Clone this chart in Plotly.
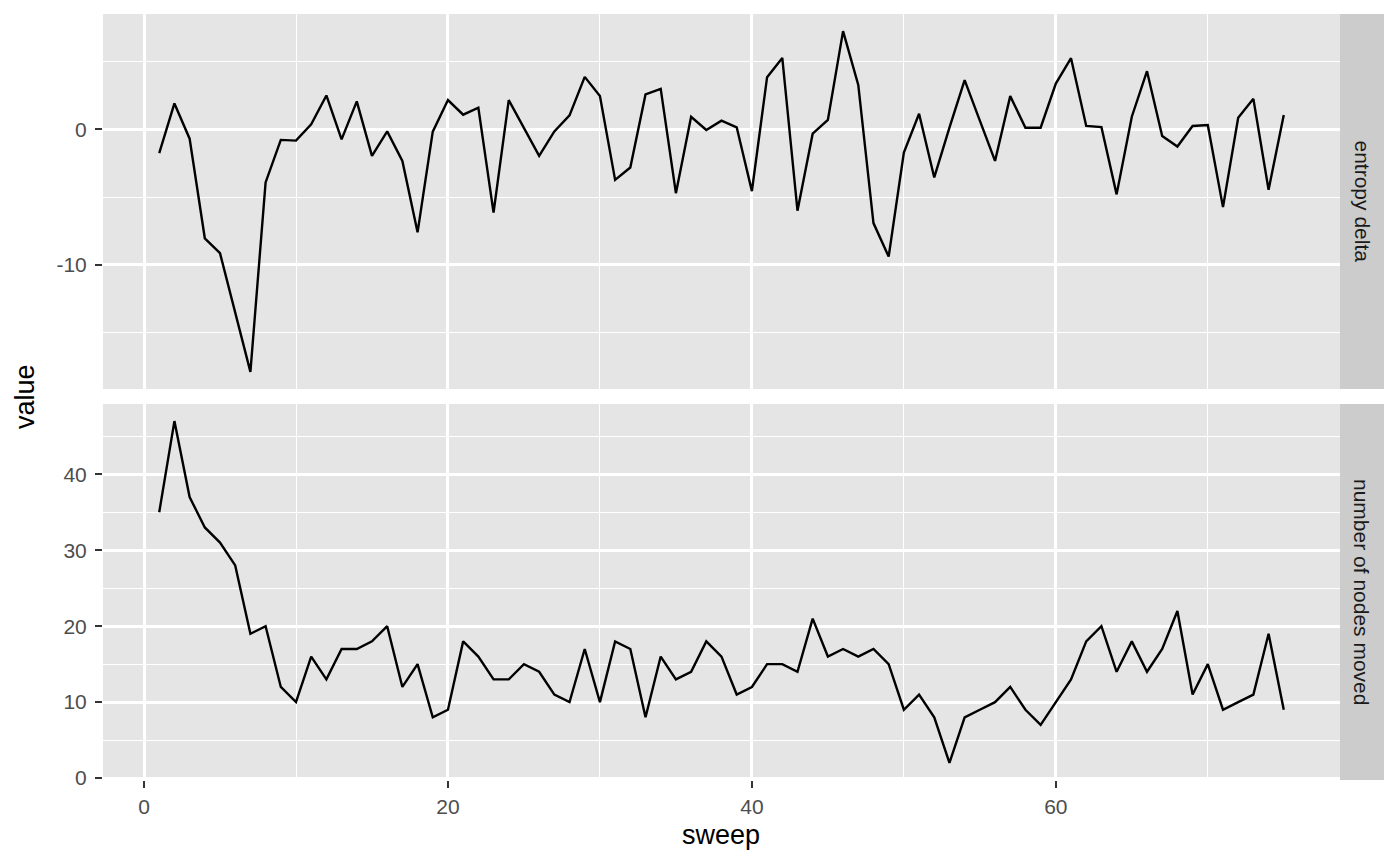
import plotly.graph_objects as go

sweep = list(range(1, 76))

entropy_delta = [
    -1.76, 1.91, -0.69, -8.04, -9.14, -13.5, -17.9, -3.92, -0.78, -0.83,
    0.37, 2.5, -0.74, 2.06, -1.96, -0.15, -2.33, -7.6, -0.17, 2.16,
    1.08, 1.59, -6.15, 2.16, 0.07, -1.96, -0.15, 1.03, 3.87, 2.45,
    -3.73, -2.82, 2.57, 2.99, -4.71, 0.93, -0.05, 0.64, 0.15, -4.56,
    3.85, 5.27, -6.0, -0.32, 0.69, 7.25, 3.28, -6.92, -9.39, -1.72,
    1.15, -3.55, 0.12, 3.63, 0.64, -2.33, 2.45, 0.12, 0.12, 3.38,
    5.25, 0.25, 0.17, -4.8, 0.93, 4.29, -0.49, -1.27, 0.25, 0.32,
    -5.74, 0.86, 2.25, -4.46, 1.05,
]

nodes_moved = [
    35, 47, 37, 33, 31, 28, 19, 20, 12, 10,
    16, 13, 17, 17, 18, 20, 12, 15, 8, 9,
    18, 16, 13, 13, 15, 14, 11, 10, 17, 10,
    18, 17, 8, 16, 13, 14, 18, 16, 11, 12,
    15, 15, 14, 21, 16, 17, 16, 17, 15, 9,
    11, 8, 2, 8, 9, 10, 12, 9, 7, 10,
    13, 18, 20, 14, 18, 14, 17, 22, 11, 15,
    9, 10, 11, 19, 9,
]

panel_labels = ["entropy delta", "number of nodes moved"]
x_ticks = [0, 20, 40, 60]
top_y_ticks = [-10, 0]
top_y_ticktext = ["-10", "0"]
bottom_y_ticks = [0, 10, 20, 30, 40]
bottom_y_ticktext = ["0", "10", "20", "30", "40"]

W, H = 1400, 866
L, R, T, B = 103, 1340, 14, 780
PANEL_BG = "#E5E5E5"
STRIP_BG = "#CCCCCC"
FONT = "Liberation Sans, Arial, Helvetica, sans-serif"
TICK_COL = "#4D4D4D"
TICK_SIZE = 21
TITLE_SIZE = 27
LINE_W = 2.4

def py(p):
    return (B - p) / (B - T)

top_dom = [py(389), 1.0]
bot_dom = [0.0, py(404)]

fig = go.Figure()
fig.add_trace(go.Scatter(x=sweep, y=entropy_delta, mode="lines",
                         line=dict(color="black", width=LINE_W),
                         xaxis="x2", yaxis="y2", showlegend=False, hoverinfo="x+y"))
fig.add_trace(go.Scatter(x=sweep, y=nodes_moved, mode="lines",
                         line=dict(color="black", width=LINE_W),
                         xaxis="x", yaxis="y", showlegend=False, hoverinfo="x+y"))

xr = [-2.7, 78.7]
common_x = dict(range=xr, showgrid=True, gridcolor="white", gridwidth=2.5,
                zeroline=False, showline=False,
                minor=dict(dtick=10, tick0=10, showgrid=True, gridcolor="white", gridwidth=1.3),
                tickvals=x_ticks)
tick_style = dict(ticks="outside", ticklen=7, tickwidth=2.4, tickcolor="#333333",
                  tickfont=dict(size=TICK_SIZE, color=TICK_COL, family=FONT))

fig.update_layout(
    width=W, height=H,
    margin=dict(l=L, r=W - R, t=T, b=H - B, pad=0),
    paper_bgcolor="white", plot_bgcolor=PANEL_BG,
    font=dict(family=FONT, color=TICK_COL, size=TICK_SIZE),
    showlegend=False,
    xaxis=dict(domain=[0, 1], anchor="y", ticktext=[str(v) for v in x_ticks],
               ticklabelstandoff=1, **tick_style, **common_x),
    xaxis2=dict(domain=[0, 1], anchor="y2", matches="x", showticklabels=False, ticks="",
                **common_x),
    yaxis=dict(domain=bot_dom, anchor="x", range=[-0.25, 49.25],
               tickvals=bottom_y_ticks, ticktext=bottom_y_ticktext,
               showgrid=True, gridcolor="white", gridwidth=2.5, zeroline=False,
               minor=dict(dtick=10, tick0=5, showgrid=True, gridcolor="white", gridwidth=1.3),
               ticklabelstandoff=4, **tick_style),
    yaxis2=dict(domain=top_dom, anchor="x2", range=[-19.16, 8.51],
                tickvals=top_y_ticks, ticktext=top_y_ticktext,
                showgrid=True, gridcolor="white", gridwidth=2.5, zeroline=False,
                minor=dict(dtick=10, tick0=-15, showgrid=True, gridcolor="white", gridwidth=1.3),
                ticklabelstandoff=4, **tick_style),
)

# facet strips
strip_x1 = (1384 - L) / (R - L)
for dom, label in zip([top_dom, bot_dom], panel_labels):
    fig.add_shape(type="rect", xref="paper", yref="paper", x0=1.0, x1=strip_x1,
                  y0=dom[0], y1=dom[1], fillcolor=STRIP_BG, line=dict(width=0), layer="below")
    fig.add_annotation(xref="paper", yref="paper", x=(1.0 + strip_x1) / 2,
                       y=(dom[0] + dom[1]) / 2, text=label, textangle=90, showarrow=False,
                       font=dict(family=FONT, size=TICK_SIZE, color="#1A1A1A"),
                       xanchor="center", yanchor="middle")

# axis titles
fig.add_annotation(xref="paper", yref="paper", x=(721 - L) / (R - L), y=py(835), text="sweep",
                   showarrow=False, font=dict(family=FONT, size=TITLE_SIZE, color="black"),
                   xanchor="center", yanchor="middle")
fig.add_annotation(xref="paper", yref="paper", x=(25 - L) / (R - L), y=py(397), text="value",
                   textangle=-90, showarrow=False,
                   font=dict(family=FONT, size=TITLE_SIZE, color="black"),
                   xanchor="center", yanchor="middle")

fig.write_html("out.html", config={"displayModeBar": False})

# remove the browser's default body margin so the figure sits at the page origin
with open("out.html", "r", encoding="utf-8") as f:
    html = f.read()
html = html.replace("<body>", '<body style="margin:0;padding:0;">', 1)
with open("out.html", "w", encoding="utf-8") as f:
    f.write(html)
